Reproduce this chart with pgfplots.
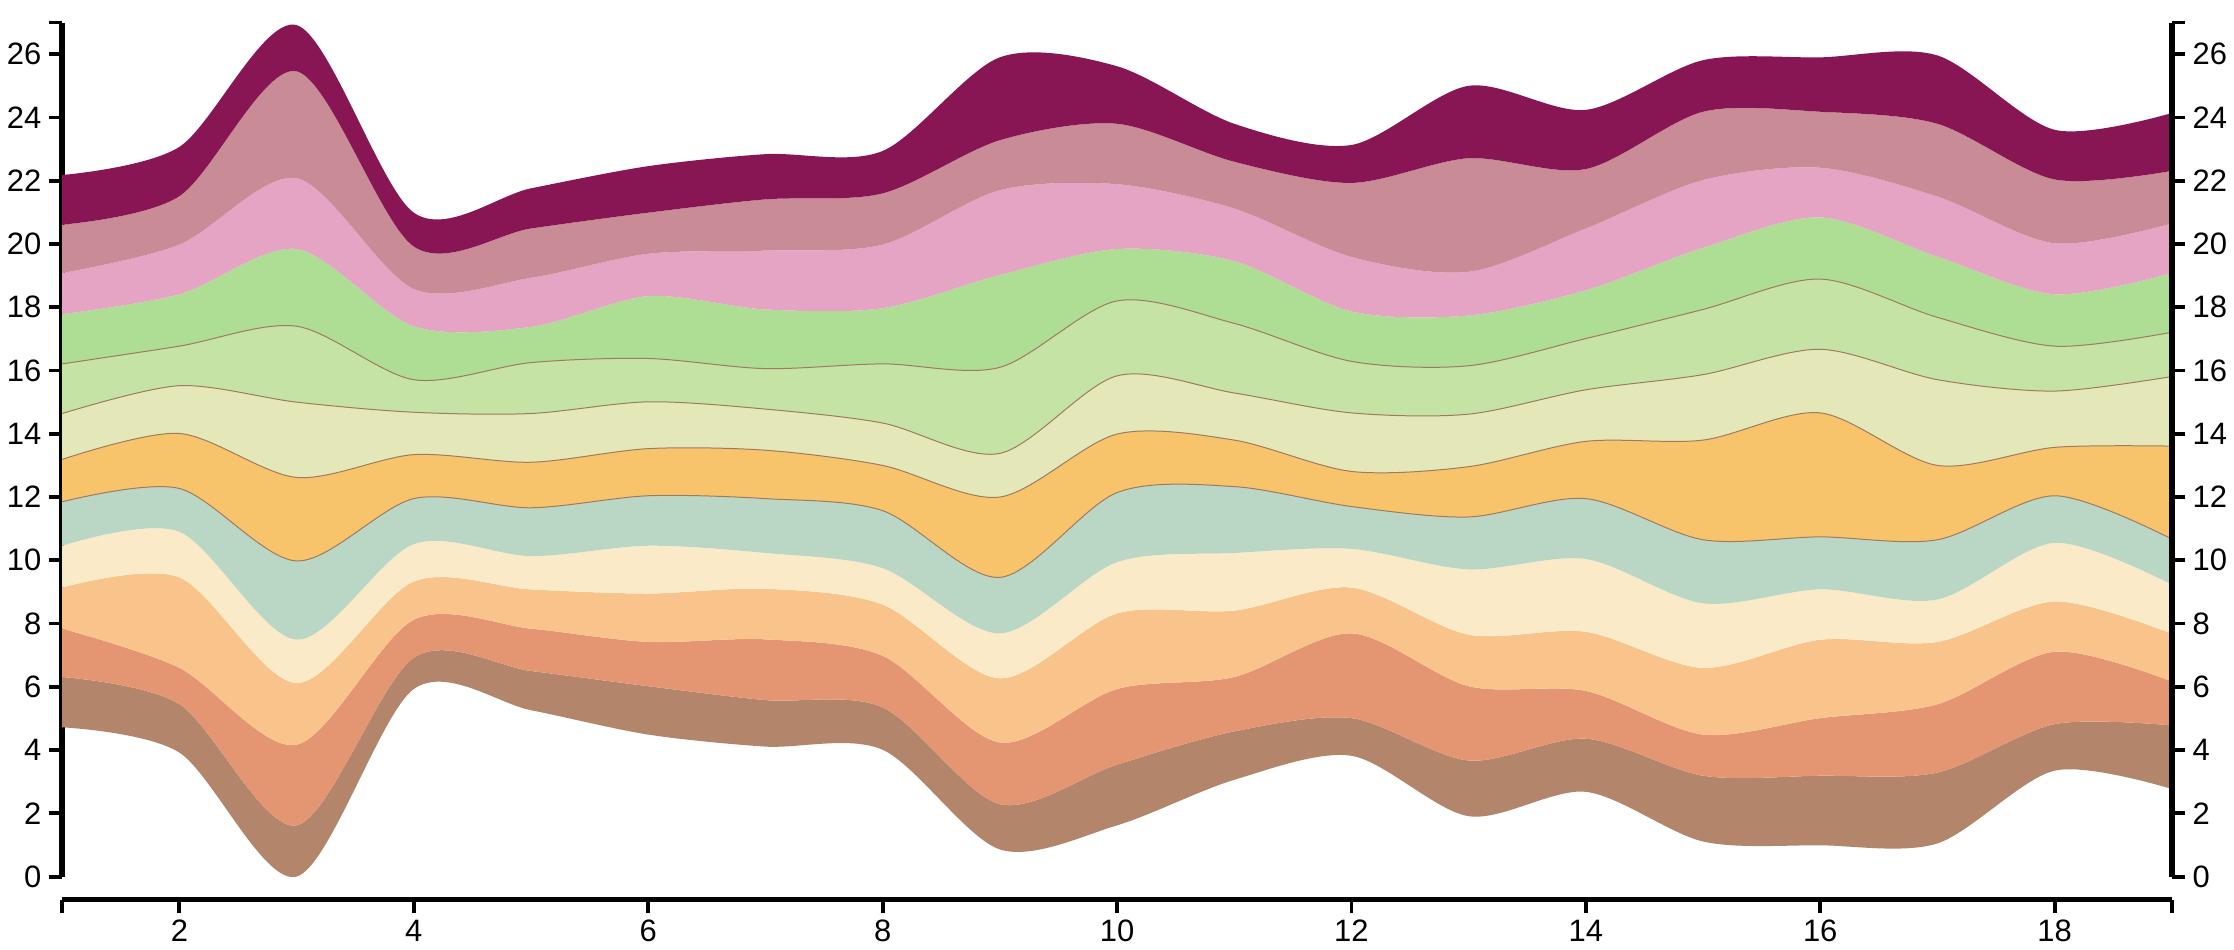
\documentclass[border=0pt]{standalone}
\usepackage{pgfplots}
\pgfplotsset{compat=1.18}
\usepackage{pgfplotstable}
\usepgfplotslibrary{fillbetween}
\usepackage{fontspec}
\setmainfont{Liberation Sans}

\definecolor{c0}{HTML}{B3856A}
\definecolor{c1}{HTML}{E49672}
\definecolor{c2}{HTML}{F9C48C}
\definecolor{c3}{HTML}{FBEAC8}
\definecolor{c4}{HTML}{BAD7C5}
\definecolor{c5}{HTML}{F7C46C}
\definecolor{c6}{HTML}{E4E8B8}
\definecolor{c7}{HTML}{C6E3A6}
\definecolor{c8}{HTML}{AEDD94}
\definecolor{c9}{HTML}{E5A4C4}
\definecolor{c10}{HTML}{C98B96}
\definecolor{c11}{HTML}{881654}
\definecolor{strk}{HTML}{9E7B5E}

\pgfplotstableread{
x  b0   b1   b2   b3   b4    b5    b6    b7    b8    b9    b10   b11   b12
1  4.72 6.31 7.84 9.14 10.46 11.85 13.19 14.64 16.21 17.78 19.08 20.61 22.18
2  3.92 5.45 6.60 9.46 10.90 12.27 14.01 15.52 16.77 18.41 19.98 21.51 23.07
3  0.00 1.62 4.17 6.12 7.49  9.98  12.62 15.00 17.40 19.84 22.08 25.46 26.92
4  5.93 6.92 8.12 9.33 10.51 11.95 13.34 14.68 15.71 17.40 18.58 19.92 20.99
5  5.26 6.50 7.84 9.08 10.13 11.66 13.10 14.64 16.25 17.38 18.93 20.49 21.76
6  4.49 6.02 7.42 8.95 10.46 12.04 13.53 15.01 16.38 18.35 19.69 20.99 22.46
7  4.11 5.58 7.50 9.10 10.23 11.95 13.48 14.78 16.06 17.93 19.79 21.41 22.84
8  4.01 5.35 6.98 8.60 9.75  11.57 13.00 14.34 16.21 17.97 19.98 21.60 22.94
9  0.86 2.29 4.24 6.27 7.69  9.46  12.00 13.38 16.10 19.02 21.70 23.28 25.90
10 1.62 3.54 5.93 8.32 9.94  12.14 13.99 15.83 18.20 19.84 21.89 23.80 25.62
11 3.06 4.59 6.31 8.41 10.23 12.33 13.80 15.29 17.49 19.46 21.12 22.60 23.80
12 3.82 5.01 7.69 9.14 10.36 11.70 12.81 14.66 16.29 17.87 19.59 21.93 23.13
13 1.91 3.67 6.02 7.65 9.71  11.37 12.96 14.62 16.15 17.74 19.12 22.71 25.00
14 2.68 4.36 5.87 7.74 10.04 11.95 13.76 15.39 17.01 18.54 20.49 22.37 24.24
15 1.11 3.19 4.49 6.60 8.64  10.65 13.80 15.87 17.93 19.88 22.02 24.18 25.81
16 0.99 3.19 5.01 7.49 9.08  10.74 14.66 16.67 18.89 20.84 22.41 24.18 25.90
17 1.05 3.29 5.45 7.42 8.76  10.65 13.00 15.71 17.68 19.60 21.50 23.80 25.96
18 3.35 4.82 7.11 8.70 10.55 12.04 13.57 15.35 16.77 18.41 20.02 22.04 23.61
19 2.77 4.78 6.17 7.68 9.23  10.67 13.61 15.81 17.21 19.08 20.65 22.31 24.14
}\data

\pgfplotsset{
  common/.style={
    scale only axis, width=1056.5pt, height=427.7pt,
    at={(0,0)}, anchor=south west,
    xmin=1, xmax=19, ymin=0, ymax=27,
    ytick={0,2,...,26}, extra y ticks={27}, extra y tick labels={},
    xtick=\empty,
    x axis line style={draw=none},
    tick align=outside, major tick length=6.7pt,
    tick style={black, line width=1.9pt},
    y axis line style={black, line width=2.7pt},
    tick label style={font=\fontsize{15.5}{18}\selectfont, inner sep=3.5pt},
    /pgf/number format/assume math mode=true,
  }
}

\begin{document}
\begin{tikzpicture}

\begin{axis}[common, axis x line*=bottom, axis y line*=left]
\addplot[draw=none, smooth, name path=b0] table[x=x, y=b0]{\data};
\addplot[draw=none, smooth, name path=b1] table[x=x, y=b1]{\data};
\addplot[draw=none, smooth, name path=b2] table[x=x, y=b2]{\data};
\addplot[draw=none, smooth, name path=b3] table[x=x, y=b3]{\data};
\addplot[draw=none, smooth, name path=b4] table[x=x, y=b4]{\data};
\addplot[draw=none, smooth, name path=b5] table[x=x, y=b5]{\data};
\addplot[draw=none, smooth, name path=b6] table[x=x, y=b6]{\data};
\addplot[draw=none, smooth, name path=b7] table[x=x, y=b7]{\data};
\addplot[draw=none, smooth, name path=b8] table[x=x, y=b8]{\data};
\addplot[draw=none, smooth, name path=b9] table[x=x, y=b9]{\data};
\addplot[draw=none, smooth, name path=b10] table[x=x, y=b10]{\data};
\addplot[draw=none, smooth, name path=b11] table[x=x, y=b11]{\data};
\addplot[draw=none, smooth, name path=b12] table[x=x, y=b12]{\data};
\addplot[fill=c0, draw=none] fill between[of=b0 and b1];
\addplot[fill=c1, draw=none] fill between[of=b1 and b2];
\addplot[fill=c2, draw=none] fill between[of=b2 and b3];
\addplot[fill=c3, draw=none] fill between[of=b3 and b4];
\addplot[fill=c4, draw=none] fill between[of=b4 and b5];
\addplot[fill=c5, draw=none] fill between[of=b5 and b6];
\addplot[fill=c6, draw=none] fill between[of=b6 and b7];
\addplot[fill=c7, draw=none] fill between[of=b7 and b8];
\addplot[fill=c8, draw=none] fill between[of=b8 and b9];
\addplot[fill=c9, draw=none] fill between[of=b9 and b10];
\addplot[fill=c10, draw=none] fill between[of=b10 and b11];
\addplot[fill=c11, draw=none] fill between[of=b11 and b12];
\addplot[smooth, draw=strk, line width=0.5pt] table[x=x, y=b5]{\data};
\addplot[smooth, draw=strk, line width=0.5pt] table[x=x, y=b6]{\data};
\addplot[smooth, draw=strk, line width=0.5pt] table[x=x, y=b7]{\data};
\addplot[smooth, draw=strk, line width=0.5pt] table[x=x, y=b8]{\data};
\end{axis}

\begin{axis}[common, axis x line*=bottom, axis y line*=right]
\addplot[draw=none] table[x=x, y=b0]{\data};
\end{axis}

\begin{axis}[scale only axis, width=1056.5pt, height=10pt,
  at={(0,-11.5pt)}, anchor=south west,
  xmin=1, xmax=19, ymin=0, ymax=1,
  axis x line*=bottom, axis y line*=left,
  ytick=\empty, y axis line style={draw=none},
  xtick={2,4,...,18}, extra x ticks={1,19}, extra x tick labels={},
  tick align=outside, major tick length=6.7pt,
  tick style={black, line width=1.9pt},
  x axis line style={black, line width=2.7pt},
  tick label style={font=\fontsize{15.5}{18}\selectfont, inner sep=3.5pt},
  /pgf/number format/assume math mode=true]
\addplot[draw=none] coordinates {(1,0) (19,1)};
\end{axis}
\path (-30pt,-35.5pt) rectangle (1087pt,439pt);
\end{tikzpicture}
\end{document}
